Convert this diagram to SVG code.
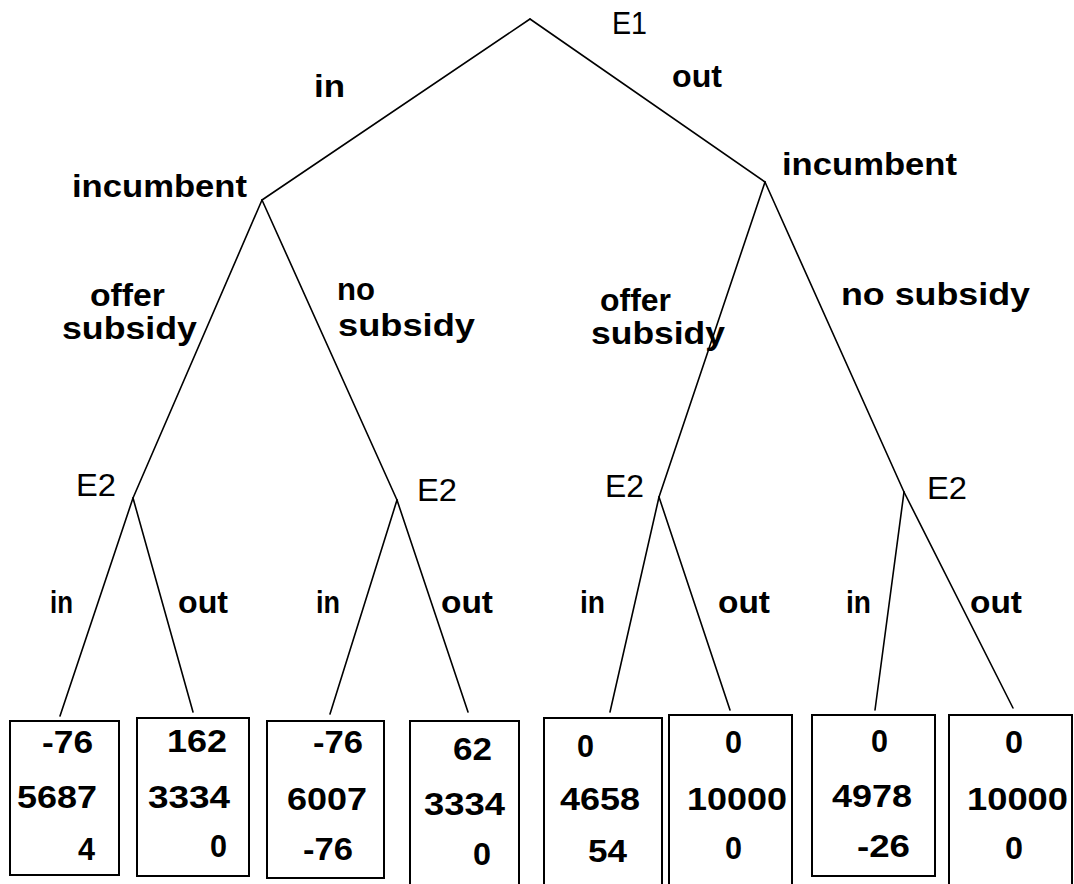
<svg xmlns="http://www.w3.org/2000/svg" width="1074" height="884" viewBox="0 0 1074 884">
<style>
  .bg { fill: #ffffff; }
  .edge { stroke: #000; stroke-width: 1.6; fill: none; stroke-linecap: round; }
  .box { fill: #fff; stroke: #000; stroke-width: 2; }
  .lbl { font-family: "Liberation Sans", Arial, sans-serif; font-weight: bold; font-size: 31px; fill: #000; }
  .pl { font-family: "Liberation Sans", Arial, sans-serif; font-size: 32px; fill: #000; }
  .num { font-family: "Liberation Sans", Arial, sans-serif; font-weight: bold; font-size: 32px; fill: #000; }
</style>
<rect class="bg" x="0" y="0" width="1074" height="884"/>

<g id="connectors">
  <line class="edge" x1="530" y1="19" x2="262" y2="200"/>
  <line class="edge" x1="530" y1="19" x2="765" y2="182"/>
  <line class="edge" x1="262" y1="200" x2="133" y2="498"/>
  <line class="edge" x1="262" y1="200" x2="397" y2="500"/>
  <line class="edge" x1="765" y1="182" x2="659" y2="497"/>
  <line class="edge" x1="765" y1="182" x2="904" y2="492"/>
  <line class="edge" x1="133" y1="498" x2="60" y2="716"/>
  <line class="edge" x1="133" y1="498" x2="193" y2="712"/>
  <line class="edge" x1="397" y1="500" x2="330" y2="714"/>
  <line class="edge" x1="397" y1="500" x2="468" y2="712"/>
  <line class="edge" x1="659" y1="497" x2="610" y2="712"/>
  <line class="edge" x1="659" y1="497" x2="730" y2="710"/>
  <line class="edge" x1="904" y1="492" x2="875" y2="710"/>
  <line class="edge" x1="904" y1="492" x2="1013" y2="708"/>
</g>

<g id="edge-labels">
  <text class="lbl" x="314" y="97" textLength="31" lengthAdjust="spacingAndGlyphs">in</text>
  <text class="lbl" x="672" y="87" textLength="50" lengthAdjust="spacingAndGlyphs">out</text>
  <text class="lbl" x="90" y="306" textLength="75" lengthAdjust="spacingAndGlyphs">offer</text>
  <text class="lbl" x="62" y="339" textLength="135" lengthAdjust="spacingAndGlyphs">subsidy</text>
  <text class="lbl" x="337" y="300" textLength="38" lengthAdjust="spacingAndGlyphs">no</text>
  <text class="lbl" x="338" y="336" textLength="137" lengthAdjust="spacingAndGlyphs">subsidy</text>
  <text class="lbl" x="600" y="311" textLength="71" lengthAdjust="spacingAndGlyphs">offer</text>
  <text class="lbl" x="591" y="344" textLength="134" lengthAdjust="spacingAndGlyphs">subsidy</text>
  <text class="lbl" x="841" y="305" textLength="189" lengthAdjust="spacingAndGlyphs">no subsidy</text>
  <text class="lbl" x="50" y="613" textLength="23" lengthAdjust="spacingAndGlyphs">in</text>
  <text class="lbl" x="178" y="613" textLength="50" lengthAdjust="spacingAndGlyphs">out</text>
  <text class="lbl" x="316" y="613" textLength="24" lengthAdjust="spacingAndGlyphs">in</text>
  <text class="lbl" x="441" y="613" textLength="52" lengthAdjust="spacingAndGlyphs">out</text>
  <text class="lbl" x="580" y="613" textLength="25" lengthAdjust="spacingAndGlyphs">in</text>
  <text class="lbl" x="718" y="613" textLength="52" lengthAdjust="spacingAndGlyphs">out</text>
  <text class="lbl" x="846" y="613" textLength="25" lengthAdjust="spacingAndGlyphs">in</text>
  <text class="lbl" x="970" y="613" textLength="52" lengthAdjust="spacingAndGlyphs">out</text>
</g>

<g id="node-E1">
  <text class="pl" x="612" y="34" textLength="35" lengthAdjust="spacingAndGlyphs">E1</text>
</g>
<g id="node-incumbent-left">
  <text class="lbl" x="72" y="197" textLength="175" lengthAdjust="spacingAndGlyphs">incumbent</text>
</g>
<g id="node-incumbent-right">
  <text class="lbl" x="782" y="175" textLength="175" lengthAdjust="spacingAndGlyphs">incumbent</text>
</g>
<g id="node-E2-a">
  <text class="pl" x="76" y="496" textLength="40" lengthAdjust="spacingAndGlyphs">E2</text>
</g>
<g id="node-E2-b">
  <text class="pl" x="417" y="501" textLength="40" lengthAdjust="spacingAndGlyphs">E2</text>
</g>
<g id="node-E2-c">
  <text class="pl" x="605" y="497" textLength="39" lengthAdjust="spacingAndGlyphs">E2</text>
</g>
<g id="node-E2-d">
  <text class="pl" x="927" y="499" textLength="40" lengthAdjust="spacingAndGlyphs">E2</text>
</g>

<g id="leaf-1">
  <rect class="box" x="10" y="721" width="109" height="154"/>
  <text class="num" x="42" y="753" textLength="51" lengthAdjust="spacingAndGlyphs">-76</text>
  <text class="num" x="17" y="808" textLength="80" lengthAdjust="spacingAndGlyphs">5687</text>
  <text class="num" x="78" y="860" textLength="17" lengthAdjust="spacingAndGlyphs">4</text>
</g>
<g id="leaf-2">
  <rect class="box" x="137" y="718" width="112" height="158"/>
  <text class="num" x="167" y="752" textLength="60" lengthAdjust="spacingAndGlyphs">162</text>
  <text class="num" x="148" y="808" textLength="82" lengthAdjust="spacingAndGlyphs">3334</text>
  <text class="num" x="210" y="857" textLength="17" lengthAdjust="spacingAndGlyphs">0</text>
</g>
<g id="leaf-3">
  <rect class="box" x="267" y="721" width="117" height="157"/>
  <text class="num" x="313" y="753" textLength="50" lengthAdjust="spacingAndGlyphs">-76</text>
  <text class="num" x="287" y="810" textLength="80" lengthAdjust="spacingAndGlyphs">6007</text>
  <text class="num" x="303" y="860" textLength="50" lengthAdjust="spacingAndGlyphs">-76</text>
</g>
<g id="leaf-4">
  <rect class="box" x="410" y="721" width="109" height="166"/>
  <text class="num" x="453" y="760" textLength="39" lengthAdjust="spacingAndGlyphs">62</text>
  <text class="num" x="424" y="815" textLength="81" lengthAdjust="spacingAndGlyphs">3334</text>
  <text class="num" x="473" y="865" textLength="18" lengthAdjust="spacingAndGlyphs">0</text>
</g>
<g id="leaf-5">
  <rect class="box" x="544" y="718" width="118" height="168"/>
  <text class="num" x="577" y="757" textLength="17" lengthAdjust="spacingAndGlyphs">0</text>
  <text class="num" x="560" y="810" textLength="80" lengthAdjust="spacingAndGlyphs">4658</text>
  <text class="num" x="588" y="862" textLength="39" lengthAdjust="spacingAndGlyphs">54</text>
</g>
<g id="leaf-6">
  <rect class="box" x="669" y="715" width="123" height="171"/>
  <text class="num" x="725" y="753" textLength="17" lengthAdjust="spacingAndGlyphs">0</text>
  <text class="num" x="687" y="810" textLength="100" lengthAdjust="spacingAndGlyphs">10000</text>
  <text class="num" x="725" y="859" textLength="17" lengthAdjust="spacingAndGlyphs">0</text>
</g>
<g id="leaf-7">
  <rect class="box" x="812" y="715" width="123" height="161"/>
  <text class="num" x="871" y="752" textLength="17" lengthAdjust="spacingAndGlyphs">0</text>
  <text class="num" x="832" y="807" textLength="80" lengthAdjust="spacingAndGlyphs">4978</text>
  <text class="num" x="857" y="857" textLength="53" lengthAdjust="spacingAndGlyphs">-26</text>
</g>
<g id="leaf-8">
  <rect class="box" x="949" y="715" width="123" height="171"/>
  <text class="num" x="1005" y="753" textLength="18" lengthAdjust="spacingAndGlyphs">0</text>
  <text class="num" x="967" y="810" textLength="101" lengthAdjust="spacingAndGlyphs">10000</text>
  <text class="num" x="1005" y="859" textLength="18" lengthAdjust="spacingAndGlyphs">0</text>
</g>
</svg>
